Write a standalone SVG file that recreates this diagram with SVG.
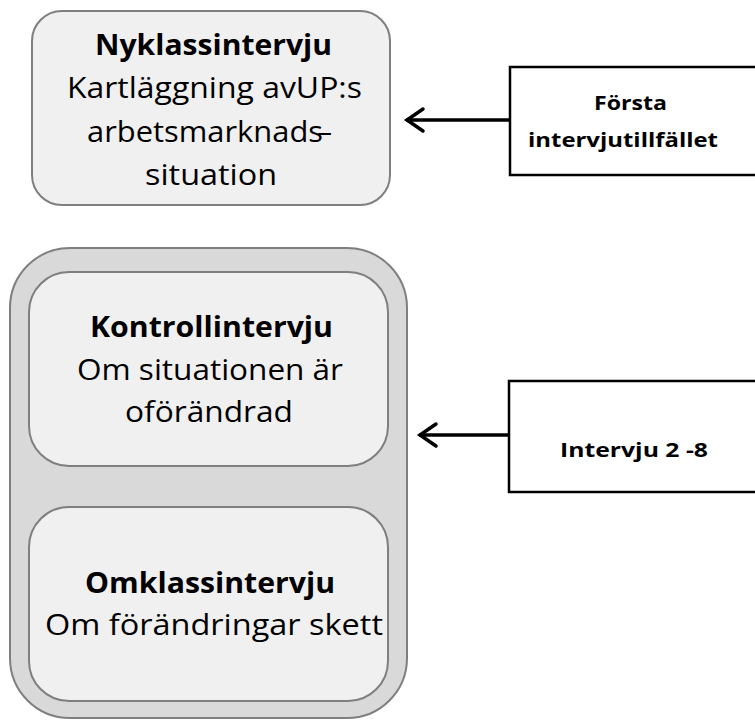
<svg xmlns="http://www.w3.org/2000/svg" width="755" height="720" viewBox="0 0 755 720">
<style>
.t{font-family:"Open Sans","Noto Sans","Liberation Sans",sans-serif;font-size:29px;fill:#000}
.b{font-weight:bold}
.s{font-family:"Open Sans","Noto Sans","Liberation Sans",sans-serif;font-size:19px;font-weight:bold;fill:#000}
.inner{fill:#f0f0f0;stroke:#7f7f7f;stroke-width:2}
.outer{fill:#d9d9d9;stroke:#7f7f7f;stroke-width:2}
.lbl{fill:#fff;stroke:#000;stroke-width:2.5}
.con{stroke:#000;stroke-width:3.5;fill:none}
</style>
<defs>
<marker id="ah" markerWidth="24" markerHeight="28" refX="0" refY="0" orient="auto" markerUnits="userSpaceOnUse" overflow="visible">
<path d="M-17,-11 L-1,0 L-17,11" fill="none" stroke="#000" stroke-width="3.5" stroke-linecap="round" stroke-linejoin="miter"/>
</marker>
</defs>
<rect width="755" height="720" fill="#fff"/>
<g id="node-nyklass">
<rect class="inner" x="32" y="11" width="358" height="194" rx="30"/>
<text class="t b" x="95" y="55" textLength="237" lengthAdjust="spacingAndGlyphs">Nyklassintervju</text>
<text class="t" x="67" y="98" textLength="295" lengthAdjust="spacingAndGlyphs">Kartläggning avUP:s</text>
<text class="t" x="87" y="142" textLength="236" lengthAdjust="spacingAndGlyphs">arbetsmarknads</text>
<text class="t" x="316" y="142" textLength="17" lengthAdjust="spacingAndGlyphs">-</text>
<text class="t" x="145" y="185" textLength="132" lengthAdjust="spacingAndGlyphs">situation</text>
</g>
<g id="node-forsta">
<rect class="lbl" x="510" y="67" width="260" height="108"/>
<text class="s" x="594" y="110" textLength="73" lengthAdjust="spacingAndGlyphs">Första</text>
<text class="s" x="528" y="147" textLength="190" lengthAdjust="spacingAndGlyphs">intervjutillfället</text>
</g>
<g id="node-container">
<rect class="outer" x="10" y="248" width="397" height="470" rx="60"/>
</g>
<g id="node-kontroll">
<rect class="inner" x="29" y="272" width="359" height="194" rx="40"/>
<text class="t b" x="90" y="337" textLength="243" lengthAdjust="spacingAndGlyphs">Kontrollintervju</text>
<text class="t" x="77" y="380" textLength="266" lengthAdjust="spacingAndGlyphs">Om situationen är</text>
<text class="t" x="125" y="422" textLength="168" lengthAdjust="spacingAndGlyphs">oförändrad</text>
</g>
<g id="node-omklass">
<rect class="inner" x="29" y="507" width="359" height="194" rx="40"/>
<text class="t b" x="85" y="593" textLength="250" lengthAdjust="spacingAndGlyphs">Omklassintervju</text>
<text class="t" x="45" y="635" textLength="338" lengthAdjust="spacingAndGlyphs">Om förändringar skett</text>
</g>
<g id="node-intervju28">
<rect class="lbl" x="509" y="381" width="260" height="111"/>
<text class="s" x="560" y="457" textLength="148" lengthAdjust="spacingAndGlyphs">Intervju 2 -8</text>
</g>
<g id="connectors">
<path class="con" d="M510,120 L406,120" marker-end="url(#ah)"/>
<path class="con" d="M509,435 L419,435" marker-end="url(#ah)"/>
</g>
</svg>
